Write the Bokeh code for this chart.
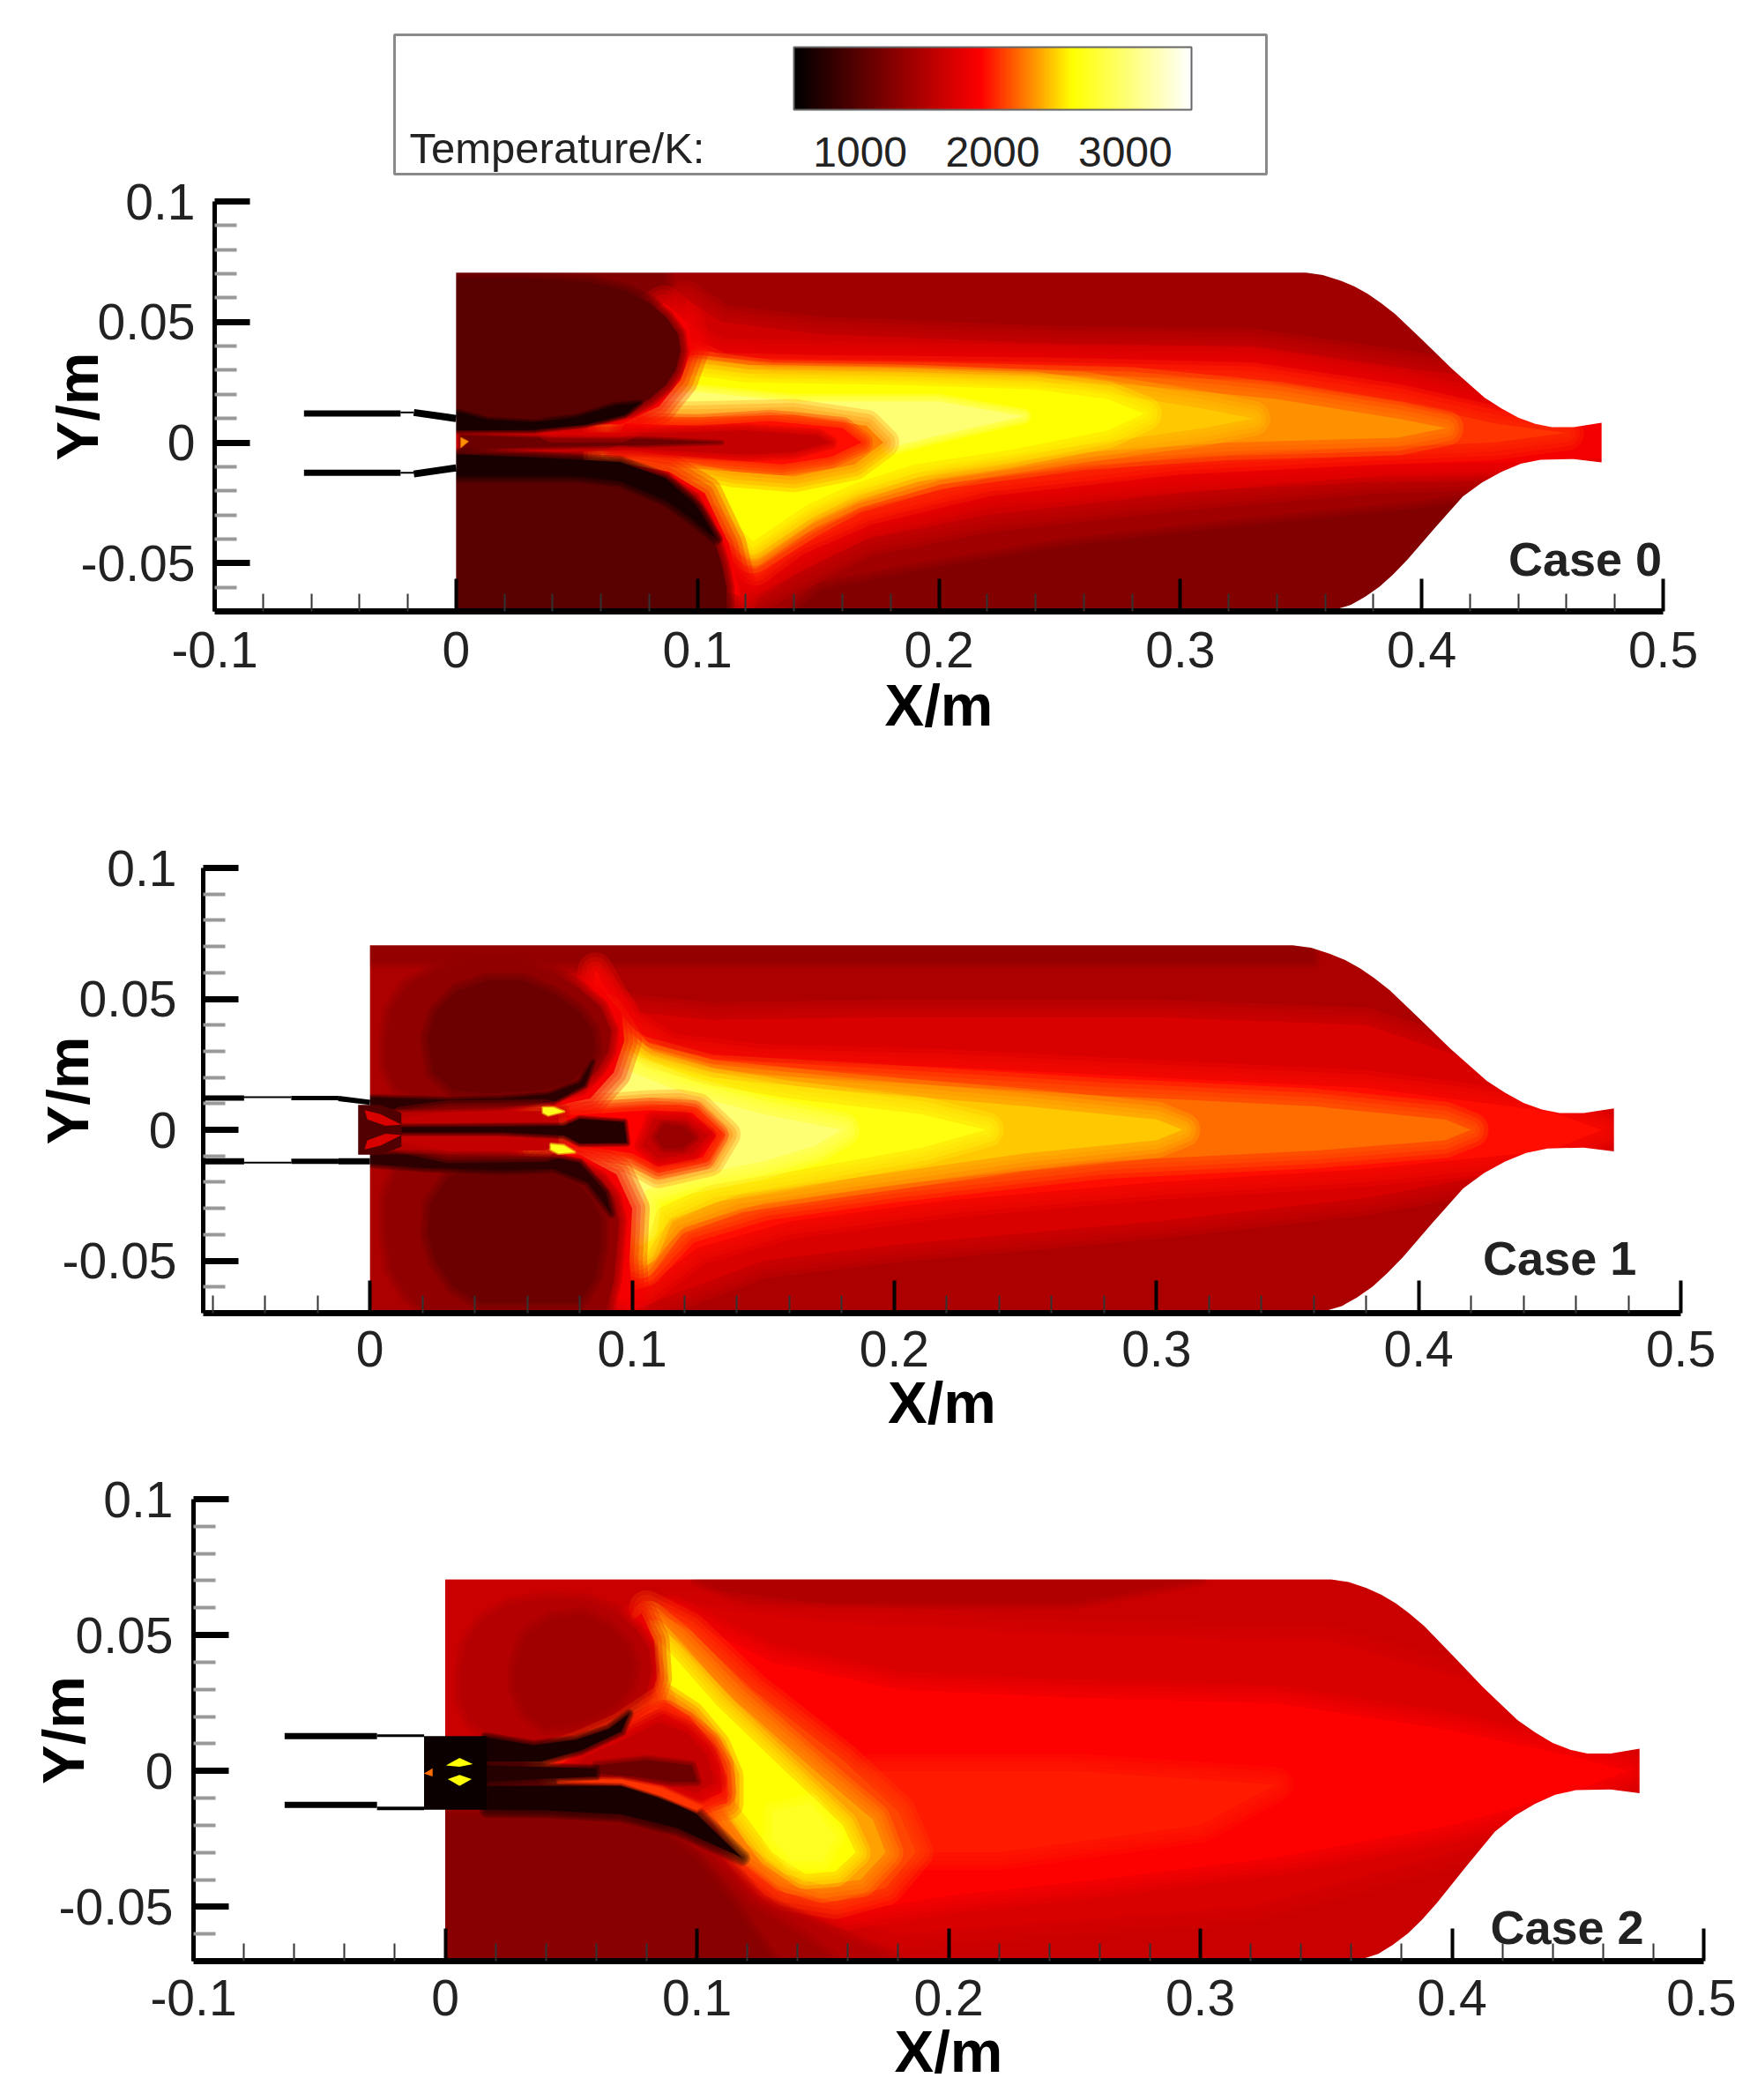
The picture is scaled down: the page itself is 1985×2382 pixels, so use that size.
import numpy as np
from bokeh.embed import file_html
from bokeh.layouts import column, row
from bokeh.models import (ColorBar, ColumnDataSource, FixedTicker, Label,
                          LinearColorMapper, Range1d)
from bokeh.plotting import figure
from bokeh.resources import INLINE

FONT = "Liberation Sans"

# temperature scale of the legend
t_low = 500
t_high = 3500
bar_ticks = [1000, 2000, 3000]
anchor_pos = [0.0, 0.47, 0.70, 1.0]
anchor_r = [0, 255, 255, 255]
anchor_g = [0, 0, 255, 255]
anchor_b = [0, 0, 0, 255]

# axes
y_ticks = [-0.05, 0, 0.05, 0.1]
y_tick_labels = ["-0.05", "0", "0.05", "0.1"]
y_minor = [-0.06, -0.04, -0.03, -0.02, -0.01, 0.01, 0.02, 0.03, 0.04, 0.06, 0.07, 0.08, 0.09]
x_ticks = [-0.1, 0, 0.1, 0.2, 0.3, 0.4, 0.5]
x_tick_labels = ["-0.1", "0", "0.1", "0.2", "0.3", "0.4", "0.5"]
x_minor = [-0.08, -0.06, -0.04, -0.02, 0.02, 0.04, 0.06, 0.08, 0.12, 0.14, 0.16, 0.18,
           0.22, 0.24, 0.26, 0.28, 0.32, 0.34, 0.36, 0.38, 0.42, 0.44, 0.46, 0.48]

# chamber and nozzle wall, metres
wall_top = [(0.352, 0.0705), (0.359, 0.0695), (0.366, 0.0673), (0.372, 0.0648), (0.3776, 0.0617), (0.383, 0.058),
            (0.389, 0.0533), (0.4007, 0.0421), (0.4123, 0.0308), (0.42, 0.024), (0.426, 0.0187), (0.433, 0.0142),
            (0.44, 0.0103), (0.447, 0.0078), (0.4538, 0.0064), (0.463, 0.0064), (0.4745, 0.0082)]
wall_bottom = [(0.4745, -0.0082), (0.463, -0.0068), (0.4492, -0.0071), (0.441, -0.0088), (0.433, -0.0121),
               (0.425, -0.0165), (0.417, -0.0224), (0.4053, -0.0355), (0.394, -0.0486), (0.388, -0.0548),
               (0.3825, -0.0598), (0.3765, -0.064), (0.3707, -0.0673), (0.365, -0.069), (0.36, -0.07)]
domain = [(0, 0.0705), (0.485, 0.0705), (0.485, -0.07), (0, -0.07)]

# Case 0 isotherm regions, painted in this order
c0_1400 = [(0.09, 0.0705), (0.35, 0.0705), (0.4, 0.06), (0.485, 0.03), (0.485, -0.015), (0.44, -0.018), (0.4, -0.024),
           (0.32, -0.032), (0.25, -0.04), (0.19, -0.05), (0.15, -0.058), (0.135, -0.07), (0.118, -0.07),
           (0.115, -0.045), (0.1, -0.02), (0.06, -0.005), (0.06, 0.01), (0.08, 0.025), (0.09, 0.05)]
c0_1650 = [(0.095, 0.06), (0.11, 0.05), (0.15, 0.045), (0.25, 0.041), (0.33, 0.04), (0.4, 0.03), (0.485, 0.02),
           (0.485, -0.012), (0.44, -0.012), (0.38, -0.014), (0.3, -0.021), (0.22, -0.03), (0.17, -0.04),
           (0.14, -0.055), (0.125, -0.063), (0.115, -0.05), (0.1, -0.025), (0.07, -0.01), (0.06, 0.012),
           (0.085, 0.03), (0.095, 0.05)]
c0_1850 = [(0.097, 0.042), (0.11, 0.036), (0.15, 0.035), (0.25, 0.033), (0.33, 0.032), (0.39, 0.023), (0.44, 0.012),
           (0.485, 0.006), (0.485, -0.006), (0.44, -0.008), (0.38, -0.009), (0.3, -0.013), (0.22, -0.02), (0.17, -0.032),
           (0.14, -0.046), (0.124, -0.057), (0.113, -0.045), (0.09, -0.02), (0.06, -0.005), (0.06, 0.012),
           (0.085, 0.028), (0.093, 0.037)]
c0_2050 = [(0.0985, 0.035), (0.11, 0.03), (0.15, 0.029), (0.25, 0.028), (0.33, 0.026), (0.39, 0.017), (0.43, 0.008),
           (0.46, 0.004), (0.43, 0), (0.38, -0.002), (0.3, -0.006), (0.22, -0.015), (0.17, -0.027), (0.14, -0.04),
           (0.124, -0.052), (0.112, -0.04), (0.09, -0.02), (0.06, -0.006), (0.06, 0.01), (0.08, 0.022), (0.095, 0.03)]
c0_2300 = [(0.1, 0.031), (0.13, 0.027), (0.2, 0.026), (0.28, 0.024), (0.34, 0.018), (0.39, 0.01), (0.41, 0.006),
           (0.39, 0.002), (0.32, 0), (0.26, -0.004), (0.2, -0.012), (0.165, -0.022), (0.145, -0.033), (0.123, -0.047),
           (0.11, -0.035), (0.09, -0.02), (0.06, -0.006), (0.06, 0.01), (0.08, 0.02), (0.095, 0.03)]
c0_2450 = [(0.099, 0.029), (0.13, 0.026), (0.19, 0.025), (0.26, 0.022), (0.31, 0.014), (0.33, 0.01), (0.31, 0.006),
           (0.26, -0.001), (0.2, -0.01), (0.165, -0.02), (0.145, -0.029), (0.123, -0.044), (0.11, -0.03),
           (0.085, -0.012), (0.065, 0), (0.065, 0.008), (0.08, 0.018), (0.09, 0.026)]
c0_2600 = [(0.098, 0.028), (0.12, 0.025), (0.18, 0.024), (0.24, 0.022), (0.27, 0.018), (0.285, 0.012), (0.27, 0.005),
           (0.23, -0.003), (0.19, -0.009), (0.165, -0.017), (0.145, -0.026), (0.123, -0.041), (0.11, -0.028),
           (0.085, -0.012), (0.075, -0.01), (0.065, 0.008), (0.08, 0.017), (0.09, 0.024)]
c0_3000 = [(0.072, 0.0105), (0.085, 0.02), (0.1, 0.021), (0.14, 0.017), (0.2, 0.017), (0.235, 0.011), (0.2, 0.003),
           (0.18, -0.002), (0.17, 0.007), (0.14, 0.012), (0.1, 0.011), (0.085, 0.01)]
c0_bub2250 = [(0.075, 0.0105), (0.1, 0.0105), (0.14, 0.0115), (0.17, 0.007), (0.177, 0), (0.165, -0.009),
              (0.14, -0.014), (0.115, -0.012), (0.09, -0.007), (0.07, -0.003)]
c0_bub1950 = [(0.07, 0.008), (0.1, 0.007), (0.13, 0.009), (0.16, 0.006), (0.168, 0), (0.155, -0.006),
              (0.135, -0.009), (0.11, -0.007), (0.085, -0.005), (0.065, -0.002)]
c0_bub1600 = [(0.0, 0.005), (0.03, 0.0045), (0.08, 0.004), (0.12, 0.005), (0.15, 0.003), (0.155, 0), (0.14, -0.004),
              (0.12, -0.005), (0.08, -0.003), (0.03, -0.004), (0.0, -0.005)]
c0_core = [(0.002, 0.003), (0.03, 0.002), (0.08, 0.0015), (0.11, 0), (0.08, -0.001), (0.03, -0.002), (0.002, -0.003)]
c0_rim_up = [(0.086, 0.058), (0.096, 0.05), (0.098, 0.04), (0.093, 0.026), (0.084, 0.015), (0.068, 0.0075), (0.04, 0.0075),
             (0.04, 0.03)]
c0_rim_low = [(0.118, -0.064), (0.113, -0.042), (0.103, -0.021), (0.088, -0.012), (0.068, -0.0085), (0.04, -0.02),
              (0.08, -0.05)]
c0_vort_up = [(0, 0.068), (0.03, 0.068), (0.055, 0.0665), (0.07, 0.063), (0.08, 0.058), (0.087, 0.052), (0.092, 0.045),
              (0.093, 0.038), (0.091, 0.03), (0.087, 0.024), (0.08, 0.018), (0.072, 0.0135), (0.06, 0.0105), (0.04, 0.01),
              (0, 0.012)]
c0_vort_low = [(0, -0.07), (0.112, -0.07), (0.112, -0.06), (0.11, -0.05), (0.107, -0.041), (0.103, -0.032),
               (0.098, -0.0235), (0.09, -0.0185), (0.08, -0.0155), (0.07, -0.014), (0.04, -0.012), (0, -0.012)]
c0_black_up = [(0, 0.0128), (0.013, 0.0095), (0.032, 0.0085), (0.05, 0.0105), (0.066, 0.0155), (0.076, 0.0165),
               (0.07, 0.0115), (0.054, 0.0075), (0.032, 0.0052), (0, 0.005)]
c0_black_low = [(0, -0.0048), (0.032, -0.0061), (0.068, -0.008), (0.0868, -0.0147), (0.1, -0.027), (0.108, -0.04),
                (0.097, -0.031), (0.087, -0.024), (0.068, -0.016), (0.05, -0.014), (0, -0.014)]
c0_spark = [(0.002, 0.002), (0.005, 0.0005), (0.002, -0.002)]
case0_levels = [(1230, domain), (1400, c0_1400), (1650, c0_1650), (1850, c0_1850), (2050, c0_2050), (2300, c0_2300),
                (2450, c0_2450), (2600, c0_2600), (3000, c0_3000), (2250, c0_bub2250), (1950, c0_bub1950),
                (1600, c0_bub1600), (1100, c0_core), (1850, c0_rim_up), (1850, c0_rim_low), (1000, c0_vort_up),
                (1000, c0_vort_low), (650, c0_black_up), (650, c0_black_low), (2300, c0_spark)]

# Case 1
c1_top = [(0, 0.0705), (0.36, 0.0705), (0.36, 0.064), (0, 0.064)]
c1_1700 = [(0.085, 0.05), (0.1, 0.045), (0.13, 0.042), (0.2, 0.043), (0.3, 0.043), (0.38, 0.04), (0.44, 0.02),
           (0.485, 0.015), (0.485, -0.015), (0.44, -0.015), (0.38, -0.026), (0.3, -0.035), (0.2, -0.044), (0.15, -0.05),
           (0.11, -0.065), (0.098, -0.07), (0.09, -0.05), (0.07, -0.02), (0.05, 0), (0.07, 0.02), (0.08, 0.035)]
c1_1950 = [(0.086, 0.061), (0.098, 0.04), (0.115, 0.03), (0.15, 0.026), (0.22, 0.024), (0.3, 0.02), (0.38, 0.016),
           (0.45, 0.007), (0.47, 0), (0.45, -0.008), (0.38, -0.015), (0.3, -0.02), (0.22, -0.027), (0.16, -0.035),
           (0.125, -0.045), (0.105, -0.06), (0.097, -0.062), (0.092, -0.045), (0.08, -0.025), (0.06, -0.005),
           (0.06, 0.005), (0.075, 0.02), (0.082, 0.035), (0.085, 0.05)]
c1_2200 = [(0.09, 0.045), (0.1, 0.03), (0.13, 0.022), (0.2, 0.018), (0.28, 0.013), (0.36, 0.009), (0.41, 0.004),
           (0.42, 0), (0.41, -0.004), (0.36, -0.008), (0.28, -0.012), (0.2, -0.021), (0.15, -0.028), (0.12, -0.037),
           (0.105, -0.053), (0.098, -0.055), (0.094, -0.04), (0.08, -0.022), (0.062, -0.005), (0.062, 0.006),
           (0.078, 0.018), (0.086, 0.032)]
c1_2450 = [(0.092, 0.038), (0.103, 0.027), (0.13, 0.02), (0.18, 0.015), (0.25, 0.009), (0.3, 0.004), (0.31, 0),
           (0.3, -0.004), (0.25, -0.009), (0.18, -0.019), (0.14, -0.025), (0.115, -0.034), (0.103, -0.05),
           (0.097, -0.042), (0.085, -0.025), (0.065, -0.006), (0.065, 0.006), (0.08, 0.016), (0.088, 0.028)]
c1_2650 = [(0.093, 0.033), (0.105, 0.024), (0.13, 0.017), (0.16, 0.012), (0.21, 0.006), (0.235, 0), (0.21, -0.007),
           (0.16, -0.016), (0.13, -0.021), (0.11, -0.03), (0.104, -0.045), (0.1, -0.042), (0.09, -0.027),
           (0.065, -0.007), (0.068, 0.008), (0.08, 0.014), (0.09, 0.026)]
c1_3000 = [(0.08, 0.0125), (0.09, 0.027), (0.1, 0.022), (0.12, 0.014), (0.15, 0.006), (0.18, 0), (0.17, -0.006),
           (0.15, -0.012), (0.12, -0.018), (0.105, -0.023), (0.103, -0.037), (0.09, -0.02), (0.07, -0.007), (0.07, 0.008)]
c1_bub2200 = [(0.0741, 0.0071), (0.1071, 0.0094), (0.118, 0.0097), (0.1251, 0.0083), (0.1356, -0.0018), (0.1295, -0.012),
              (0.11, -0.0165), (0.0996, -0.0109), (0.077, -0.0064)]
c1_bub1900 = [(0.075, 0.0055), (0.107, 0.0075), (0.123, 0.0065), (0.132, -0.002), (0.127, -0.0105), (0.11, -0.014),
              (0.1, -0.009), (0.077, -0.0055)]
c1_bub1600 = [(0.108, 0.004), (0.12, 0.004), (0.129, -0.002), (0.123, -0.009), (0.11, -0.011), (0.104, -0.006)]
c1_bub1350 = [(0.112, 0.002), (0.12, 0.001), (0.124, -0.003), (0.119, -0.007), (0.112, -0.007), (0.109, -0.003)]
c1_rim_up = [(0.087, 0.055), (0.096, 0.045), (0.097, 0.034), (0.093, 0.022), (0.084, 0.012), (0.07, 0.009), (0.04, 0.02),
             (0.06, 0.05)]
c1_rim_low = [(0.1, -0.065), (0.099, -0.05), (0.1, -0.03), (0.094, -0.017), (0.08, -0.0095), (0.07, -0.009), (0.04, -0.03),
              (0.07, -0.06)]
c1_vort_up = [(0.006, 0.035), (0.008, 0.046), (0.014, 0.055), (0.025, 0.061), (0.04, 0.0645), (0.055, 0.0645), (0.07, 0.06),
              (0.08, 0.054), (0.088, 0.047), (0.092, 0.038), (0.091, 0.03), (0.087, 0.023), (0.08, 0.016), (0.07, 0.0135),
              (0.06, 0.012), (0.02, 0.012), (0.01, 0.016), (0.006, 0.024)]
c1_vort_up2 = [(0.022, 0.035), (0.025, 0.045), (0.033, 0.053), (0.045, 0.057), (0.058, 0.057), (0.07, 0.052), (0.08, 0.045),
               (0.085, 0.038), (0.086, 0.03), (0.082, 0.023), (0.076, 0.018), (0.065, 0.015), (0.045, 0.014), (0.032, 0.015),
               (0.024, 0.022)]
c1_vort_low = [(0.006, -0.04), (0.008, -0.053), (0.014, -0.063), (0.022, -0.07), (0.09, -0.07), (0.093, -0.058),
               (0.094, -0.048), (0.095, -0.035), (0.093, -0.026), (0.088, -0.019), (0.08, -0.014), (0.07, -0.0125),
               (0.05, -0.012), (0.02, -0.012), (0.01, -0.016), (0.006, -0.026)]
c1_vort_low2 = [(0.022, -0.04), (0.025, -0.05), (0.032, -0.06), (0.042, -0.066), (0.08, -0.066), (0.086, -0.056),
                (0.088, -0.045), (0.088, -0.034), (0.085, -0.027), (0.08, -0.021), (0.07, -0.017), (0.06, -0.015),
                (0.04, -0.0145), (0.03, -0.018), (0.023, -0.028)]
c1_black_up = [(0, 0.0125), (0.03, 0.0115), (0.05, 0.012), (0.068, 0.0135), (0.08, 0.018), (0.085, 0.026),
               (0.082, 0.017), (0.07, 0.0105), (0.05, 0.0085), (0.03, 0.0078), (0.01, 0.0078), (0, 0.009)]
c1_black_low = [(0, -0.0095), (0.02, -0.0092), (0.05, -0.0098), (0.07, -0.0105), (0.08, -0.0125), (0.09, -0.024),
                (0.092, -0.032), (0.083, -0.02), (0.07, -0.015), (0.05, -0.0155), (0.02, -0.0145), (0, -0.013)]
c1_channel = [(0.012, 0.0045), (0.03, 0.0068), (0.0665, 0.0072), (0.072, 0.0062), (0.072, -0.0062), (0.0665, -0.0078),
              (0.03, -0.0082), (0.012, -0.0045)]
c1_center = [(0.012, 0.001), (0.05, 0.0013), (0.074, 0.0015), (0.08, 0.0042), (0.097, 0.003), (0.098, -0.005),
             (0.08, -0.0052), (0.074, -0.0022), (0.05, -0.001), (0.012, -0.001)]
c1_tip_up = [(0.066, 0.0085), (0.07, 0.0085), (0.074, 0.007), (0.068, 0.0055), (0.066, 0.0065)]
c1_tip_low = [(0.069, -0.0055), (0.074, -0.006), (0.078, -0.0085), (0.072, -0.009), (0.069, -0.0075)]
c1_cavity = [(-0.0045, 0.0095), (0.004, 0.0095), (0.012, 0.0065), (0.012, -0.0065), (0.004, -0.0095), (-0.0045, -0.0095)]
c1_x_up = [(-0.002, 0.0075), (0.004, 0.006), (0.012, 0.002), (0.006, 0.0015), (-0.001, 0.004)]
c1_x_low = [(-0.002, -0.0075), (0.004, -0.006), (0.012, -0.002), (0.006, -0.0015), (-0.001, -0.004)]
case1_levels = [(1450, domain), (1330, c1_top), (1700, c1_1700), (1950, c1_1950), (2200, c1_2200), (2450, c1_2450),
                (2650, c1_2650), (3000, c1_3000), (2200, c1_bub2200), (1900, c1_bub1900), (1600, c1_bub1600),
                (1350, c1_bub1350), (1850, c1_rim_up), (1850, c1_rim_low), (1300, c1_vort_up), (1100, c1_vort_up2),
                (1300, c1_vort_low), (1100, c1_vort_low2), (750, c1_black_up), (750, c1_black_low), (1600, c1_channel),
                (700, c1_center), (2700, c1_tip_up), (2700, c1_tip_low), (950, c1_cavity), (1700, c1_x_up), (1700, c1_x_low)]

# Case 2
c2_top = [(0.1, 0.0705), (0.3, 0.0705), (0.25, 0.062), (0.12, 0.062)]
c2_1700 = [(0.09, 0.062), (0.15, 0.055), (0.25, 0.05), (0.35, 0.048), (0.42, 0.03), (0.485, 0.02), (0.485, -0.02),
           (0.44, -0.02), (0.38, -0.035), (0.32, -0.05), (0.25, -0.055), (0.18, -0.06), (0.13, -0.045), (0.1, -0.02)]
c2_1900 = [(0.09, 0.058), (0.13, 0.04), (0.18, 0.03), (0.25, 0.027), (0.33, 0.025), (0.4, 0.015), (0.45, 0.005),
           (0.47, 0), (0.45, -0.007), (0.4, -0.02), (0.33, -0.032), (0.26, -0.04), (0.2, -0.046), (0.16, -0.052),
           (0.125, -0.04), (0.1, -0.018)]
c2_1980 = [(0.17, 0), (0.25, 0), (0.33, -0.005), (0.3, -0.02), (0.22, -0.03), (0.17, -0.03)]
c2_2100 = [(0.08, 0.06), (0.097, 0.052), (0.122, 0.03), (0.158, 0.004), (0.18, -0.015), (0.187, -0.03), (0.175, -0.043),
           (0.155, -0.048), (0.135, -0.045), (0.118, -0.033), (0.105, -0.013), (0.09, 0.005), (0.085, 0.03)]
c2_2350 = [(0.081, 0.056), (0.093, 0.047), (0.115, 0.026), (0.147, 0), (0.17, -0.018), (0.175, -0.03), (0.165, -0.04),
           (0.15, -0.042), (0.135, -0.038), (0.12, -0.027), (0.107, -0.008), (0.092, 0.01), (0.086, 0.035)]
c2_2600 = [(0.083, 0.05), (0.09, 0.043), (0.108, 0.024), (0.135, 0), (0.158, -0.02), (0.163, -0.03), (0.155, -0.037),
           (0.143, -0.038), (0.13, -0.03), (0.118, -0.015), (0.107, 0), (0.096, 0.015), (0.089, 0.033)]
c2_2720 = [(0.13, -0.015), (0.145, -0.012), (0.155, -0.024), (0.15, -0.033), (0.138, -0.033), (0.13, -0.025)]
c2_low_1500 = [(0, -0.014), (0.06, -0.014), (0.09, -0.017), (0.108, -0.03), (0.125, -0.048), (0.15, -0.058), (0.18, -0.07),
               (0, -0.07)]
c2_low_1380 = [(0, -0.015), (0.055, -0.015), (0.088, -0.02), (0.104, -0.032), (0.12, -0.049), (0.14, -0.06), (0.155, -0.07),
               (0, -0.07)]
c2_low_1250 = [(0, -0.016), (0.05, -0.016), (0.085, -0.022), (0.1, -0.033), (0.115, -0.05), (0.13, -0.07), (0, -0.07)]
c2_rim_up = [(0.078, 0.058), (0.083, 0.048), (0.084, 0.034), (0.079, 0.021), (0.07, 0.0125), (0.04, 0.03)]
c2_vort = [(0.006, 0.036), (0.008, 0.046), (0.014, 0.055), (0.025, 0.061), (0.04, 0.0635), (0.055, 0.063), (0.067, 0.059),
           (0.076, 0.052), (0.081, 0.045), (0.082, 0.037), (0.08, 0.029), (0.075, 0.022), (0.069, 0.017), (0.062, 0.014),
           (0.05, 0.011), (0.035, 0.0105), (0.02, 0.012), (0.01, 0.018), (0.006, 0.027)]
c2_vort2 = [(0.028, 0.04), (0.032, 0.05), (0.042, 0.056), (0.055, 0.0575), (0.065, 0.053), (0.072, 0.046), (0.075, 0.039),
            (0.073, 0.031), (0.068, 0.025), (0.06, 0.02), (0.05, 0.017), (0.04, 0.016), (0.032, 0.021), (0.028, 0.03)]
c2_rim = [(0.087, 0.026), (0.07, 0.0155), (0.054, 0.009), (0.038, 0.0038), (0.046, -0.0035), (0.07, -0.003),
          (0.085, -0.0065), (0.102, -0.0135), (0.112, -0.012), (0.112, -0.002), (0.107, 0.009), (0.097, 0.02)]
c2_in_1850 = [(0.087, 0.021), (0.07, 0.0135), (0.055, 0.0075), (0.045, 0.002), (0.05, -0.002), (0.07, -0.002),
              (0.086, -0.005), (0.102, -0.011), (0.11, -0.008), (0.109, 0.002), (0.104, 0.01), (0.095, 0.017)]
c2_in_1600 = [(0.085, 0.018), (0.07, 0.011), (0.055, 0.005), (0.05, -0.001), (0.07, -0.0015), (0.088, -0.005),
              (0.1, -0.008), (0.107, -0.004), (0.104, 0.006), (0.096, 0.014)]
c2_in_1100 = [(0.06, 0.002), (0.08, 0.004), (0.098, 0.002), (0.1, -0.004), (0.09, -0.004), (0.075, -0.002), (0.06, -0.001)]
c2_black_up = [(0.016, 0.0125), (0.035, 0.0095), (0.052, 0.0115), (0.065, 0.0155), (0.073, 0.021), (0.07, 0.0145),
               (0.054, 0.0075), (0.038, 0.0035), (0.016, 0.0035)]
c2_black_low = [(0.0166, -0.0055), (0.045, -0.0055), (0.07, -0.0055), (0.085, -0.009), (0.1, -0.016), (0.118, -0.032),
                (0.092, -0.021), (0.07, -0.016), (0.04, -0.0145), (0.0166, -0.0143)]
c2_arc_low = [(0.045, -0.0032), (0.07, -0.0032), (0.086, -0.0062), (0.102, -0.013), (0.1, -0.0145), (0.085, -0.009),
              (0.07, -0.0045), (0.045, -0.004)]
c2_channel = [(0.0166, 0.002), (0.06, 0.001), (0.06, -0.002), (0.0166, -0.004)]
c2_box = [(-0.0084, 0.0128), (0.0166, 0.0128), (0.0166, -0.0143), (-0.0084, -0.0143)]
c2_dia_up = [(0.0003, 0.002), (0.0057, 0.0048), (0.011, 0.0025), (0.0057, 0.0015)]
c2_dia_low = [(0.001, -0.003), (0.0057, -0.0015), (0.0105, -0.003), (0.0057, -0.0055)]
c2_spark = [(-0.0085, -0.001), (-0.005, 0.001), (-0.005, -0.002)]
case2_levels = [(1620, domain), (1480, c2_top), (1700, c2_1700), (1900, c2_1900), (1980, c2_1980), (2100, c2_2100),
                (2350, c2_2350), (2600, c2_2600), (2720, c2_2720), (1500, c2_low_1500), (1380, c2_low_1380), (1250, c2_low_1250),
                (1800, c2_rim_up), (1500, c2_vort), (1400, c2_vort2), (2100, c2_rim), (1850, c2_in_1850), (1600, c2_in_1600),
                (1100, c2_in_1100), (650, c2_black_up), (650, c2_black_low), (2050, c2_arc_low), (700, c2_channel),
                (560, c2_box), (2600, c2_dia_up), (2600, c2_dia_low), (2200, c2_spark)]

# injector walls left of the chamber: (x pair, y pair, line width)
case0_inj = [([-0.063, -0.023], [0.0121, 0.0121], 7), ([-0.023, -0.0175], [0.0125, 0.0125], 2),
             ([-0.0175, 0], [0.0125, 0.01], 8), ([-0.063, -0.023], [-0.0125, -0.0125], 7),
             ([-0.023, -0.0175], [-0.0125, -0.0125], 2), ([-0.0175, 0], [-0.013, -0.0105], 8)]
case1_inj = [([-0.0636, -0.048], [0.0121, 0.0121], 6), ([-0.048, -0.03], [0.0125, 0.0125], 2),
             ([-0.03, -0.012], [0.0121, 0.0121], 5), ([-0.012, 0], [0.012, 0.0105], 6),
             ([-0.0636, -0.048], [-0.012, -0.012], 7), ([-0.048, -0.03], [-0.0125, -0.0125], 2),
             ([-0.03, -0.012], [-0.012, -0.012], 6), ([-0.012, 0], [-0.012, -0.012], 7)]
case2_inj = [([-0.0638, -0.0271], [0.0128, 0.0128], 7), ([-0.0271, -0.0084], [0.013, 0.013], 3),
             ([-0.0638, -0.0271], [-0.0125, -0.0125], 7), ([-0.0271, -0.0084], [-0.0138, -0.0138], 4)]

pos = np.linspace(0, 1, 256)
palette = ["#%02x%02x%02x" % (int(r), int(g), int(b)) for r, g, b in zip(
    np.interp(pos, anchor_pos, anchor_r), np.interp(pos, anchor_pos, anchor_g), np.interp(pos, anchor_pos, anchor_b))]
mapper = LinearColorMapper(palette=palette, low=t_low, high=t_high)


def make_legend():
    p = figure(width=1969, height=200, output_backend="svg", toolbar_location=None,
               x_axis_type=None, y_axis_type=None, x_range=Range1d(0, 989), y_range=Range1d(0, 158),
               min_border_left=447, min_border_right=533, min_border_top=39, min_border_bottom=3)
    p.grid.visible = False
    p.outline_line_color = "#8a8a8a"
    p.outline_line_width = 3
    bar = ColorBar(color_mapper=mapper, orientation="horizontal", width=451, height=71,
                   location=(453, 6), padding=0, ticker=FixedTicker(ticks=bar_ticks),
                   major_label_text_font=FONT, major_label_text_font_size="48px",
                   major_label_text_color="#222222", label_standoff=31,
                   major_tick_line_color=None, minor_tick_line_color=None,
                   bar_line_color="#666666", bar_line_width=2,
                   border_line_color=None, background_fill_color=None)
    p.add_layout(bar, "center")
    p.add_layout(Label(x=17, y=30, text="Temperature/K:", text_font=FONT, text_font_size="49px",
                       text_color="#222222", text_baseline="middle"))
    return p


def blur_width(t, pts, sx, sy):
    # soft edge in pixels, from the region's rough thickness; cold regions stay tighter
    x = np.array([q[0] for q in pts]) * sx
    y = np.array([q[1] for q in pts]) * sy
    area = 0.5 * abs(np.dot(x, np.roll(y, 1)) - np.dot(y, np.roll(x, 1)))
    perim = np.sum(np.hypot(x - np.roll(x, 1), y - np.roll(y, 1)))
    top = 18 if t < 1550 and pts is not domain else 40
    return float(np.clip(1.5 * area / perim, 6 if perim > 250 else 0, top))


def make_panel(levels, inj, case_name, case_x, case_y, x_left, height, left, right, top, bottom,
               x_standoff, y_standoff, xlab_standoff, ylab_standoff, margin=(0, 0, 0, 0)):
    p = figure(width=1969, height=height, output_backend="svg", toolbar_location=None,
               x_range=Range1d(x_left, 0.5), y_range=Range1d(-0.07, 0.1), margin=margin,
               border_fill_color=None,
               min_border_left=left, min_border_right=right, min_border_top=top, min_border_bottom=bottom)
    p.grid.visible = False
    p.outline_line_color = None

    frame_w = 1969 - left - right
    frame_h = height - top - bottom
    sx = frame_w / (0.5 - x_left)
    sy = frame_h / 0.17

    def draw(t, pts, soft):
        src = ColumnDataSource(dict(xs=[[q[0] for q in pts]], ys=[[q[1] for q in pts]], t=[t]))
        fill = {"field": "t", "transform": mapper}
        if soft:
            w = blur_width(t, pts, sx, sy)
            for frac in (1.0, 0.75, 0.5, 0.25):
                if w * frac >= 1:
                    p.patches("xs", "ys", source=src, fill_alpha=0, line_color=fill, line_alpha=0.25,
                              line_width=w * frac, line_join="round")
        p.patches("xs", "ys", source=src, fill_color=fill, line_color=None)

    # regions from the first one in the injector recess on are painted over the white mask
    recess = next((i for i, (t, pts) in enumerate(levels) if min(q[0] for q in pts) < 0), len(levels))
    for t, pts in levels[:recess]:
        draw(t, pts, True)

    # white outside the chamber and the nozzle wall
    outline = ([(x_left, -0.0715), (0, -0.0715), (0, 0.0705)] + wall_top + wall_bottom +
               [(0.36, -0.0715), (0.51, -0.0715), (0.51, 0.11), (x_left, 0.11)])
    p.patch([q[0] for q in outline], [q[1] for q in outline], fill_color="white", line_color=None)

    for t, pts in levels[recess:]:
        draw(t, pts, False)

    for xs, ys, w in inj:
        p.line(xs, ys, line_color="black", line_width=w)

    p.xaxis.ticker = FixedTicker(ticks=[t for t in x_ticks if t >= x_left], minor_ticks=[t for t in x_minor if t > x_left])
    p.yaxis.ticker = FixedTicker(ticks=y_ticks, minor_ticks=y_minor)
    p.xaxis.major_label_overrides = dict(zip(x_ticks, x_tick_labels))
    p.yaxis.major_label_overrides = dict(zip(y_ticks, y_tick_labels))
    p.xaxis.axis_label = "X/m"
    p.yaxis.axis_label = "Y/m"
    for ax in (p.xaxis[0], p.yaxis[0]):
        ax.axis_line_color = "black"
        ax.major_tick_line_color = "black"
        ax.major_tick_out = 0
        ax.minor_tick_out = 0
        ax.major_label_text_font = FONT
        ax.major_label_text_font_size = "57px"
        ax.major_label_text_color = "#222222"
        ax.axis_label_text_font = FONT
        ax.axis_label_text_font_size = "67px"
        ax.axis_label_text_font_style = "bold"
        ax.axis_label_text_color = "black"
    xa, ya = p.xaxis[0], p.yaxis[0]
    xa.axis_line_width = 7
    xa.major_tick_in = 37
    xa.major_tick_line_width = 4
    xa.minor_tick_in = 20
    xa.minor_tick_line_width = 2
    xa.minor_tick_line_color = "#333333"
    xa.major_label_standoff = x_standoff
    xa.axis_label_standoff = xlab_standoff
    ya.axis_line_width = 5
    ya.major_tick_in = 40
    ya.major_tick_line_width = 7
    ya.minor_tick_in = 25
    ya.minor_tick_line_width = 4
    ya.minor_tick_line_color = "#999999"
    ya.major_label_standoff = y_standoff
    ya.axis_label_standoff = ylab_standoff

    p.add_layout(Label(x=case_x, y=case_y, text=case_name, text_font=FONT, text_font_size="54px",
                       text_font_style="bold", text_color="#222222", text_align="right", text_baseline="middle"))
    return p


legend = make_legend()
# first panel slides up under the legend so that its top tick label has room
p0 = make_panel(case0_levels, case0_inj, "Case 0", 0.4995, -0.0483, -0.1, 692, 243, 83, 40, 187, 23, 22, 2, -36,
                margin=(-12, 0, 0, 0))
p1 = make_panel(case1_levels, case1_inj, "Case 1", 0.4831, -0.0488, -0.0636, 770, 230, 63, 104, 161, 20, 30, 0, -46)
p2 = make_panel(case2_levels, case2_inj, "Case 2", 0.4762, -0.0575, -0.1, 724, 219, 37, 50, 150, 21, 23, 0, -45)

# each figure in its own row, so the column does not line up their frames
page = column(row(legend), row(p0), row(p1), row(p2), spacing=0)
open("out.html", "w").write(file_html(page, INLINE))
